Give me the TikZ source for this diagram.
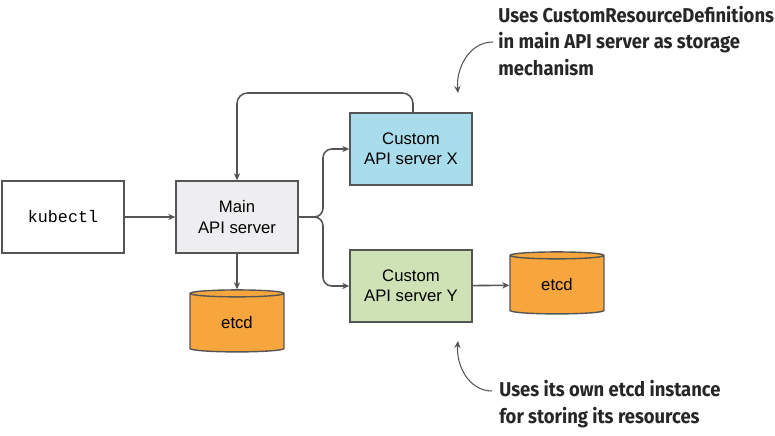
\documentclass[tikz,border=0pt]{standalone}
\usepackage{fontspec}
\setmainfont{Liberation Sans}
\setmonofont{Liberation Mono}
\newfontfamily\notefont{Fira Sans}[FakeStretch=0.92]
\usetikzlibrary{shapes.geometric,arrows.meta,calc}
\definecolor{linegray}{RGB}{85,85,85}
\definecolor{maingray}{RGB}{238,238,240}
\definecolor{xblue}{RGB}{170,221,236}
\definecolor{ygreen}{RGB}{206,226,182}
\definecolor{etcdorange}{RGB}{246,166,60}
\begin{document}
\begin{tikzpicture}[x=0.02cm,y=-0.02cm,
    font=\fontsize{9.5}{11.5}\selectfont,
    >={Stealth[length=4pt,width=3.6pt]},
    box/.style={draw=linegray,line width=0.9pt,minimum width=2.44cm,minimum height=1.44cm,align=center,inner sep=1pt},
    db/.style={cylinder,shape border rotate=90,aspect=0.22,draw=linegray,line width=0.8pt,
        fill=etcdorange,minimum width=1.88cm,minimum height=1.24cm,inner sep=0pt},
    wire/.style={draw=linegray,line width=0.9pt,->},
    note/.style={font=\notefont\bfseries\fontsize{11.4}{15.3}\selectfont,align=left,inner sep=0pt,text=black!85}]
  \useasboundingbox (0,0) rectangle (775,436);
  % boxes
  \node[box] (kubectl) at (63,217) {\ttfamily kubectl};
  \node[box,fill=maingray] (main) at (237,217) {Main\\API server};
  \node[box,fill=xblue] (custx) at (411,149) {Custom\\API server X};
  \node[box,fill=ygreen] (custy) at (411,286) {Custom\\API server Y};
  \node[db] (etcdmain) at (237,323) {etcd};
  \node[db] (etcdy) at (557,285) {etcd};
  % connectors
  \draw[wire] (kubectl) -- (main);
  \draw[wire] (main) -- (etcdmain);
  \draw[wire] (custy) -- (etcdy);
  \draw[wire,rounded corners=5] (main.east) -- (323,217) |- (custx.west);
  \draw[wire,rounded corners=5] (main.east) -- (323,217) |- (custy.west);
  \draw[wire,rounded corners=6] (custx.north -| 413,0) -- (413,93) -- (237,93) -- (main.north);
  % notes
  \node[note,anchor=west] (notex) at (498,41) {Uses CustomResourceDefinitions\\in main API server as storage\\mechanism};
  \node[note,anchor=north west] (notey) at (499,380) {Uses its own etcd instance\\for storing its resources};
  \coordinate (tipx) at (458,93);
  \coordinate (tipy) at (458,341);
  \draw[draw=linegray,line width=0.6pt,->] ($(notex.west)+(-5,1)$) to[out=180,in=95] (tipx);
  \draw[draw=linegray,line width=0.6pt,->] ($(notey.north west)+(-7,11)$) to[out=180,in=-95] (tipy);
\end{tikzpicture}
\end{document}
